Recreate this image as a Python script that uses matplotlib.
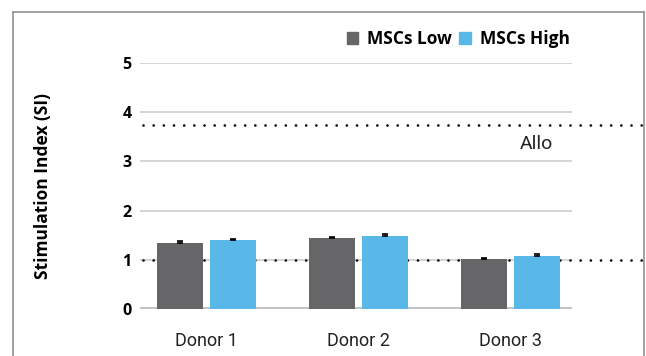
import matplotlib
matplotlib.use("Agg")
import matplotlib.pyplot as plt
import numpy as np
from matplotlib.patches import Rectangle

donors = ["Donor 1", "Donor 2", "Donor 3"]
series_names = ["MSCs Low", "MSCs High"]
msc_low = [1.34, 1.44, 1.02]
msc_high = [1.40, 1.475, 1.07]
err_low = [0.035, 0.03, 0.015]
err_high = [0.02, 0.045, 0.04]
allo_level = 3.75
baseline_level = 1.0
y_ticks = [0, 1, 2, 3, 4, 5]

c_low, c_high = "#666568", "#5ab8e8"
bold_font = ["Open Sans", "DejaVu Sans"]
cond_font = ["Liberation Sans Narrow", "Roboto", "DejaVu Sans"]

W, H = 646, 356
fig = plt.figure(figsize=(W / 100, H / 100), dpi=100)

# axes box in pixel terms
x0, x1 = 140, 572
y_top, y_bot = 63.3, 308.7
ax = fig.add_axes([x0 / W, 1 - y_bot / H, (x1 - x0) / W, (y_bot - y_top) / H])

# outer frame
frame = dict(transform=fig.transFigure, color="#9a9a9a", lw=1.3)
fig.add_artist(plt.Line2D([13.5 / W, 13.5 / W], [0, 1 - 12 / H], **frame))
fig.add_artist(plt.Line2D([13.5 / W, 644 / W], [1 - 12 / H, 1 - 12 / H], **frame))
fig.add_artist(plt.Line2D([644 / W, 644 / W], [0, 1 - 12 / H], **frame))

x = np.arange(len(donors))
width = 0.305
off = 0.175
ax.bar(x - off, msc_low, width, color=c_low, zorder=3)
ax.bar(x + off, msc_high, width, color=c_high, zorder=3)
ax.errorbar(x - off, msc_low, yerr=[[0, 0, 0], err_low], fmt="none", ecolor="black",
            elinewidth=1, capsize=2.3, capthick=1.2, zorder=4)
ax.errorbar(x + off, msc_high, yerr=[[0, 0, 0], err_high], fmt="none", ecolor="black",
            elinewidth=1, capsize=2.3, capthick=1.2, zorder=4)

ax.set_xlim(-0.438, 2.406)
ax.set_ylim(0, 5)

for t in y_ticks[1:]:
    ax.axhline(t, color="#d4d4d4", lw=1.4, zorder=1)
ax.axhline(0, color="#c2c5c8", lw=3, zorder=2)

# dotted reference lines run past the plot area to the right edge
for lvl in (allo_level, baseline_level):
    ax.plot([-0.42, 3.2], [lvl, lvl], linestyle=(0, (0.01, 3.65)), color="#111111", lw=2,
            clip_on=False, zorder=2, dash_capstyle="round")

ax.text(2.174, 3.35, "Allo", fontsize=14, color="#222222", family=cond_font, ha="center", va="center")

for s in ax.spines.values():
    s.set_visible(False)
ax.set_yticks(y_ticks)
ax.set_yticklabels([str(t) for t in y_ticks], fontsize=11.5, fontweight="bold", family=bold_font)
ax.tick_params(axis="y", length=0, pad=6)
ax.set_xticks(x)
ax.set_xticklabels(donors, fontsize=13, family=cond_font, color="#222222")
ax.tick_params(axis="x", length=0, pad=16.5)
ax.set_ylabel("Stimulation Index (SI)", fontsize=12.5, fontweight="bold", family=bold_font)
ax.yaxis.set_label_coords(-0.204, 0.5)

# legend drawn as square markers with bold labels
handles = [Rectangle((0, 0), 1, 1, color=c_low), Rectangle((0, 0), 1, 1, color=c_high)]
fig.legend(handles, series_names, loc="center right", bbox_to_anchor=(577 / W, 1 - 39.5 / H),
           ncol=2, frameon=False, handlelength=0.68, handleheight=0.68, handletextpad=0.52,
           columnspacing=0.4, borderaxespad=0, prop={"family": bold_font, "weight": "bold", "size": 12.5})

fig.savefig("out.png", dpi=100)
